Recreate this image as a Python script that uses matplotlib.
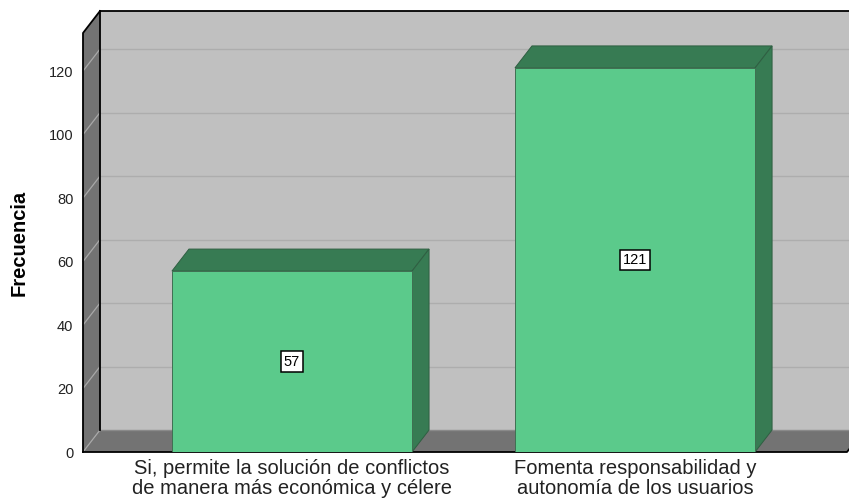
import matplotlib
matplotlib.use("Agg")
from matplotlib import pyplot as plt
from matplotlib.patches import Polygon

plt.rcParams['font.family'] = ['Liberation Sans', 'DejaVu Sans']

categories = ["Si, permite la solución de conflictos\nde manera más económica y célere",
              "Fomenta responsabilidad y\nautonomía de los usuarios"]
values = [57, 121]
yticks = [0, 20, 40, 60, 80, 100, 120]

front_col = "#5bca8b"
dark_col = "#377b53"
wall_col = "#737373"
back_col = "#c0c0c0"

fig = plt.figure(figsize=(8.49, 5.04), dpi=100)
ax = fig.add_axes([83 / 849, 52 / 504, (847 - 83) / 849, (452 - 33) / 504])

x0, x1 = -0.6093, 1.618
ytop = 132
ddx = 17 / 343.0   # depth offset in x units
ddy = 22 / 3.174   # depth offset in value units
bw = 0.7

ax.set_xlim(x0, x1)
ax.set_ylim(0, ytop)
for s in ax.spines.values():
    s.set_visible(False)
ax.patch.set_visible(False)

# back wall
ax.add_patch(Polygon([(x0 + ddx, ddy), (x1 + 0.2, ddy), (x1 + 0.2, ytop + ddy), (x0 + ddx, ytop + ddy)],
                     closed=True, facecolor=back_col, edgecolor="none", clip_on=False, zorder=0))
for v in yticks[1:]:
    ax.plot([x0 + ddx, x1 + 0.2], [v + ddy, v + ddy], color="#adadad", lw=1, clip_on=False, zorder=0.5)
ax.plot([x0 + ddx, x1 + 0.2], [ytop + ddy, ytop + ddy], color="black", lw=1.3, clip_on=False, zorder=0.6)
ax.plot([x0 + ddx, x0 + ddx], [ddy, ytop + ddy], color="black", lw=1.3, clip_on=False, zorder=1.2)

# left wall
ax.add_patch(Polygon([(x0, 0), (x0, ytop), (x0 + ddx, ytop + ddy), (x0 + ddx, ddy)],
                     closed=True, facecolor=wall_col, edgecolor="none", clip_on=False, zorder=1))
for v in yticks:
    ax.plot([x0, x0 + ddx], [v, v + ddy], color="#a8a8a8", lw=0.9, clip_on=False, zorder=1.1)
ax.plot([x0, x0, x0 + ddx], [0, ytop, ytop + ddy], color="black", lw=1.3, clip_on=False, zorder=1.3)

# floor
ax.add_patch(Polygon([(x0, 0), (x1, 0), (x1 + ddx, ddy), (x0 + ddx, ddy)],
                     closed=True, facecolor=wall_col, edgecolor="none", clip_on=False, zorder=1))
ax.plot([x0 + ddx, x1 + 0.2], [ddy, ddy], color="#8a8a8a", lw=1, clip_on=False, zorder=1.1)
ax.plot([x0, x1, x1 + ddx], [0, 0, ddy], color="black", lw=1.3, clip_on=False, zorder=1.3)

# bars
xs = list(range(len(values)))
ax.bar(xs, values, width=bw, color=front_col, edgecolor="#3f6f52", linewidth=0.7, zorder=3)
for x, v in zip(xs, values):
    l, r = x - bw / 2, x + bw / 2
    ax.add_patch(Polygon([(l, v), (r, v), (r + ddx, v + ddy), (l + ddx, v + ddy)],
                         closed=True, facecolor=dark_col, edgecolor="#2f5f42", lw=0.7, zorder=2.5))
    ax.add_patch(Polygon([(r, 0), (r + ddx, ddy), (r + ddx, v + ddy), (r, v)],
                         closed=True, facecolor=dark_col, edgecolor="#2f5f42", lw=0.7, zorder=2.5))
    ax.text(x, v / 2, str(v), ha="center", va="center", fontsize=10.5, zorder=5,
            bbox=dict(boxstyle="square,pad=0.22", facecolor="white", edgecolor="black", lw=1.1))

ax.set_yticks(yticks)
ax.set_yticklabels([str(t) for t in yticks], fontsize=10.5, color="#222222")
ax.tick_params(axis="y", length=0, pad=7)
ax.set_xticks(xs)
ax.set_xticklabels(categories, fontsize=14.5, color="#222222", linespacing=1.05)
ax.tick_params(axis="x", length=0, pad=5)

fig.text(19 / 849, 261 / 504, "Frecuencia", rotation=90, ha="center", va="center",
         fontsize=14.5, fontweight="bold")

plt.savefig("out.png", dpi=100)
